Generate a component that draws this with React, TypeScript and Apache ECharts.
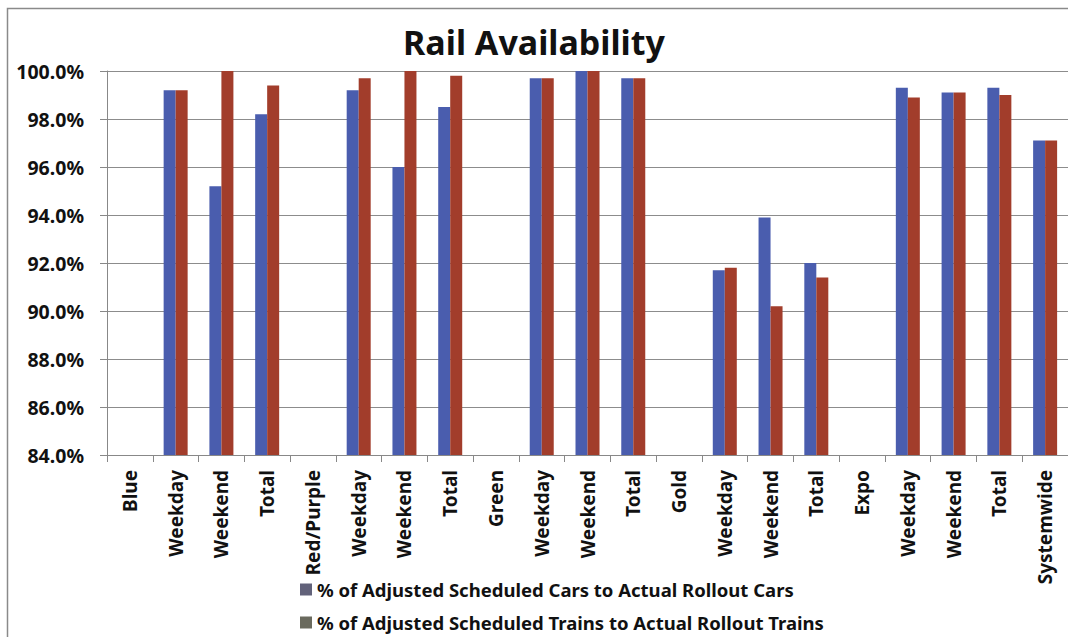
import React, { useEffect, useRef } from "react";
import * as echarts from "echarts";

const categories = [
  "Blue", "Weekday", "Weekend", "Total",
  "Red/Purple", "Weekday", "Weekend", "Total",
  "Green", "Weekday", "Weekend", "Total",
  "Gold", "Weekday", "Weekend", "Total",
  "Expo", "Weekday", "Weekend", "Total",
  "Systemwide",
];

const carsPct = [
  null, 99.2, 95.2, 98.2,
  null, 99.2, 96.0, 98.5,
  null, 99.7, 100.0, 99.7,
  null, 91.7, 93.9, 92.0,
  null, 99.3, 99.1, 99.3,
  97.1,
];

const trainsPct = [
  null, 99.2, 100.0, 99.4,
  null, 99.7, 100.0, 99.8,
  null, 99.7, 100.0, 99.7,
  null, 91.8, 90.2, 91.4,
  null, 98.9, 99.1, 99.0,
  97.1,
];

const seriesNames = [
  "% of Adjusted Scheduled Cars to Actual Rollout Cars",
  "% of Adjusted Scheduled Trains to Actual Rollout Trains",
];

const legendIconColors = ["#62627a", "#6a6a5e"];

const yMin = 84;
const yMax = 100;
const yInterval = 2;

export default function App() {
  const ref = useRef<HTMLDivElement>(null);

  useEffect(() => {
    if (!ref.current) return;
    const chart = echarts.init(ref.current, null, { renderer: "svg" });
    const font = "'Noto Sans', 'Open Sans', sans-serif";
    const legendBase = {
      orient: "horizontal",
      left: 300,
      padding: 0,
      itemWidth: 12,
      itemHeight: 12,
      icon: "rect",
      textStyle: { fontFamily: font, fontWeight: "bold", fontSize: 18.5, color: "#111" },
    };
    chart.setOption({
      animation: false,
      backgroundColor: "#ffffff",
      title: {
        text: "Rail Availability",
        left: 529,
        top: 20,
        textAlign: "center",
        textStyle: { fontFamily: font, fontWeight: "bold", fontSize: 34, color: "#111" },
      },
      graphic: [
        {
          type: "rect",
          shape: { x: 7.5, y: 8.5, width: 1100, height: 700 },
          style: { fill: "none", stroke: "#8a8a8a", lineWidth: 1.5 },
          silent: true,
        },
      ],
      legend: [
        {
          ...legendBase,
          top: 580,
          data: [{ name: seriesNames[0], itemStyle: { color: legendIconColors[0] } }],
        },
        {
          ...legendBase,
          top: 613,
          data: [{ name: seriesNames[1], itemStyle: { color: legendIconColors[1] } }],
        },
      ],
      grid: { left: 107, right: -3, top: 71, bottom: 182, containLabel: false },
      xAxis: {
        type: "category",
        data: categories,
        axisLine: { lineStyle: { color: "#888", width: 1 } },
        axisTick: { show: true, length: 7, lineStyle: { color: "#888" } },
        axisLabel: {
          rotate: 90,
          interval: 0,
          margin: 15,
          fontFamily: font,
          fontWeight: "bold",
          fontSize: 19,
          color: "#111",
        },
      },
      yAxis: {
        type: "value",
        min: yMin,
        max: yMax,
        interval: yInterval,
        axisLine: { show: true, lineStyle: { color: "#888" } },
        axisTick: { show: true, length: 7, lineStyle: { color: "#888" } },
        splitLine: { lineStyle: { color: "#8c8c8c", width: 1 } },
        axisLabel: {
          formatter: (v: number) => v.toFixed(1) + "%",
          fontFamily: font,
          fontWeight: "bold",
          fontSize: 19.5,
          color: "#111",
          margin: 23,
        },
      },
      series: [
        {
          name: seriesNames[0],
          type: "bar",
          data: carsPct,
          barWidth: 12,
          barGap: "0%",
          itemStyle: { color: "#4a5dae" },
        },
        {
          name: seriesNames[1],
          type: "bar",
          data: trainsPct,
          barWidth: 12,
          barGap: "0%",
          itemStyle: { color: "#a23d2b" },
        },
      ],
    });
    return () => chart.dispose();
  }, []);

  return (
    <div
      ref={ref}
      style={{ position: "fixed", left: 0, top: 0, width: 1068, height: 637 }}
    />
  );
}
